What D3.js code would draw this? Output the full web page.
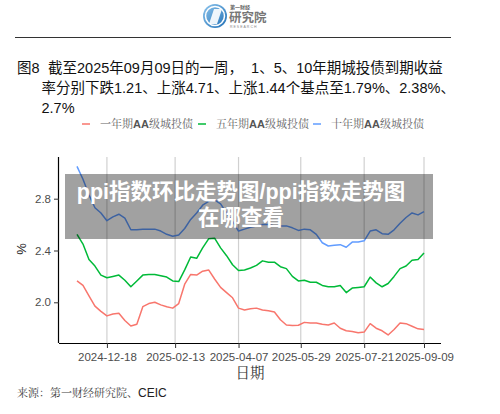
<!DOCTYPE html>
<html><head><meta charset="utf-8">
<script src="https://cdn.jsdelivr.net/npm/d3@7"></script>
<style>
html,body{margin:0;padding:0;background:#fff;}
svg{display:block;}
</style></head>
<body>
<script>
// ---- data ----
const dayOffsets = [-25,-20,-15,-10,-5,0,5,10,15,20,25,30,35,40,45,50,55,60,65,70,75,80,85,90,95,100,105,110,115,120,125,130,135,140,145,150,155,160,165,170,175,180,185,190,195,200,205,210,215,220,225,230,235,240,245,250,255,260,265];
const seriesNames = ["一年期AA级城投债","五年期AA级城投债","十年期AA级城投债"];
const oneYear = [2.165,2.13,2.05,1.97,1.93,1.895,1.91,1.915,1.86,1.817,1.83,1.966,1.99,2.0,1.98,1.965,1.955,1.99,2.14,2.215,2.21,2.24,2.25,2.18,2.115,2.075,2.035,1.955,1.94,1.95,1.955,1.94,1.935,1.925,1.865,1.825,1.82,1.823,1.845,1.84,1.84,1.83,1.825,1.84,1.80,1.78,1.775,1.765,1.77,1.835,1.80,1.78,1.748,1.79,1.84,1.835,1.815,1.795,1.79];
const fiveYear = [2.525,2.45,2.33,2.28,2.21,2.19,2.20,2.21,2.17,2.12,2.165,2.21,2.215,2.215,2.205,2.195,2.165,2.16,2.25,2.35,2.34,2.42,2.49,2.495,2.42,2.36,2.29,2.245,2.25,2.265,2.285,2.32,2.31,2.31,2.275,2.26,2.20,2.165,2.17,2.155,2.155,2.13,2.12,2.12,2.13,2.075,2.11,2.115,2.12,2.195,2.15,2.12,2.145,2.2,2.26,2.28,2.325,2.33,2.38];
const tenYear = [3.05,2.95,2.83,2.73,2.69,2.63,2.66,2.68,2.65,2.56,2.56,2.565,2.565,2.565,2.55,2.525,2.51,2.52,2.57,2.64,2.69,2.75,2.78,2.79,2.76,2.69,2.625,2.55,2.565,2.58,2.59,2.6,2.6,2.59,2.59,2.59,2.575,2.555,2.565,2.56,2.525,2.46,2.435,2.44,2.445,2.425,2.465,2.465,2.475,2.55,2.56,2.53,2.525,2.56,2.61,2.655,2.69,2.675,2.70];
const xTickLabels = ["2024-12-18","2025-02-13","2025-04-07","2025-05-29","2025-07-21","2025-09-09"];
const yTickValues = [2.0,2.4,2.8];
const colors = ["#F8766D","#00BA38","#619CFF"];
const titleLines = ["截至2025年09月09日的一周，  1、5、10年期城投债到期收益","率分别下跌1.21、上涨4.71、上涨1.44个基点至1.79%、2.38%、","2.7%"];
const sourceParts = ["来源：第一财经研究院、","CEIC"];
const overlayLines = ["ppi指数环比走势图/ppi指数走势图","在哪查看"];

// ---- build ----
const parse = d3.utcParse("%Y-%m-%d");
const base = parse("2024-12-18");
const dates = dayOffsets.map(o => d3.utcDay.offset(base, o));
const allSeries = [oneYear, fiveYear, tenYear].map((vals, i) => ({
  name: seriesNames[i], color: colors[i],
  points: vals.map((v, j) => ({date: dates[j], value: v}))
}));

const W = 500, H = 414;
const svg = d3.select("body").append("svg").attr("width", W).attr("height", H);
const CJK = "'Liberation Sans','Noto Sans CJK SC',sans-serif";
const SERIF = "'Liberation Serif','Noto Serif CJK SC','Noto Sans CJK SC',serif";

// logo
const logo = svg.append("g");
const lg = svg.append("defs").append("linearGradient").attr("id","lg").attr("x1","0").attr("y1","0").attr("x2","1").attr("y2","1");
lg.append("stop").attr("offset","0").attr("stop-color","#8fc6ee");
lg.append("stop").attr("offset","1").attr("stop-color","#1f6fb5");
logo.append("circle").attr("cx",215).attr("cy",16).attr("r",12).attr("fill","url(#lg)");
logo.append("circle").attr("cx",215).attr("cy",16).attr("r",9.5).attr("fill","none").attr("stroke","#fff").attr("stroke-width",1.5);
logo.append("path").attr("d","M209,24 L214,9 L222,9 L217,24 Z").attr("fill","#fff").attr("opacity",0.9);
logo.append("text").attr("x",230).attr("y",9).attr("font-size",5).attr("font-weight","bold").attr("fill","#666").attr("font-family",CJK).text("第一财经");
logo.append("text").attr("x",229).attr("y",22).attr("font-size",12.5).attr("font-weight","bold").attr("fill","#777").attr("font-family",CJK).text("研究院");
logo.append("text").attr("x",230).attr("y",28).attr("font-size",3.5).attr("fill","#888").attr("letter-spacing",1).attr("font-family",CJK).text("RESEARCH");

// header rule
svg.append("line").attr("x1",15).attr("x2",451).attr("y1",37.5).attr("y2",37.5).attr("stroke","#333").attr("stroke-width",1);

// title
svg.append("text").attr("x",17).attr("y",73).attr("font-size",14.5).attr("fill","#111").attr("font-family",CJK).text("图8");
svg.append("text").attr("x",48).attr("y",73).attr("font-size",14.5).attr("fill","#111").attr("font-family",CJK).style("white-space","pre").text(titleLines[0]);
svg.append("text").attr("x",41.5).attr("y",93).attr("font-size",14.5).attr("fill","#111").attr("font-family",CJK).text(titleLines[1]);
svg.append("text").attr("x",41.5).attr("y",113).attr("font-size",14.5).attr("fill","#111").attr("font-family",CJK).text(titleLines[2]);

// legend
const legX = [82, 198, 313];
allSeries.forEach((s, i) => {
  svg.append("line").attr("x1",legX[i]).attr("x2",legX[i]+8).attr("y1",124).attr("y2",124).attr("stroke",s.color).attr("stroke-width",1.5);
  const t = svg.append("text").attr("x",legX[i]+18).attr("y",128).attr("font-size",11).attr("fill","#666").attr("font-family",SERIF);
  s.name.split(/(AA)/).filter(p => p).forEach(p => {
    const ts = t.append("tspan").text(p);
    if (p === "AA") ts.attr("font-family",CJK).attr("font-weight","bold").attr("fill","#555");
  });
});

// plot
const m = {left:59, right:441, top:157, bottom:343};
const x = d3.scaleUtc().domain([dates[0], dates[dates.length-1]]).range([77, 424]);
const y = d3.scaleLinear().domain([2.0, 2.8]).range([302.3, 198.7]);
const xTicks = xTickLabels.map(s => parse(s));

// vertical gridlines
svg.append("g").selectAll("line").data(xTicks).join("line")
  .attr("x1", d => x(d)).attr("x2", d => x(d))
  .attr("y1", m.top).attr("y2", m.bottom)
  .attr("stroke","#d0d0d0").attr("stroke-width",1.2);

// lines
const line = d3.line().x(d => x(d.date)).y(d => y(d.value)).curve(d3.curveLinear);
svg.append("g").selectAll("path").data(allSeries).join("path")
  .attr("d", d => line(d.points)).attr("fill","none")
  .attr("stroke", d => d.color).attr("stroke-width",1.5).attr("stroke-linejoin","round");

// axes
const xAxis = d3.axisBottom(x).tickValues(xTicks).tickFormat(d3.utcFormat("%Y-%m-%d")).tickSize(5).tickSizeOuter(0);
const gx = svg.append("g").attr("transform",`translate(0,${m.bottom})`).call(xAxis);
gx.select(".domain").attr("d",`M${m.left},0.5H${m.right}`).attr("stroke","#000").attr("stroke-width",1.2);
gx.selectAll(".tick line").attr("stroke","#333").attr("stroke-width",1);
gx.selectAll(".tick text").attr("font-size",11.5).attr("fill","#4d4d4d").attr("font-family",CJK).attr("dy","0.9em");

const yAxis = d3.axisLeft(y).tickValues(yTickValues).tickFormat(d3.format(".1f")).tickSize(5).tickSizeOuter(0);
const gy = svg.append("g").attr("transform",`translate(${m.left},0)`).call(yAxis);
gy.select(".domain").attr("d",`M-0.5,${m.top}V${m.bottom}`).attr("stroke","#000").attr("stroke-width",1.2);
gy.selectAll(".tick line").attr("stroke","#333").attr("stroke-width",1);
gy.selectAll(".tick text").attr("font-size",11.5).attr("fill","#4d4d4d").attr("font-family",CJK);

// axis titles
svg.append("text").attr("transform","translate(26,249) rotate(-90)").attr("text-anchor","middle")
  .attr("font-size",13).attr("fill","#222").attr("font-family",CJK).text("%");
svg.append("text").attr("x",250).attr("y",378).attr("text-anchor","middle")
  .attr("font-size",14.5).attr("fill","#333").attr("font-family",SERIF).text("日期");

// source
const src = svg.append("text").attr("x",17).attr("y",397).attr("font-size",11).attr("fill","#444").attr("font-family",SERIF);
src.append("tspan").text(sourceParts[0]);
src.append("tspan").attr("font-family",CJK).attr("font-size",12).attr("fill","#222").text(sourceParts[1]);

// overlay banner
svg.append("rect").attr("x",65).attr("y",174).attr("width",368).attr("height",65).attr("fill","#000").attr("opacity",0.37);
overlayLines.forEach((t, i) => {
  svg.append("text").attr("x",241).attr("y",198.5 + i*26).attr("text-anchor","middle")
    .attr("font-size",21.5).attr("font-weight","bold").attr("fill","#fff").attr("font-family","'Liberation Sans','Noto Sans CJK SC',sans-serif").text(t);
});
</script>
</body></html>
